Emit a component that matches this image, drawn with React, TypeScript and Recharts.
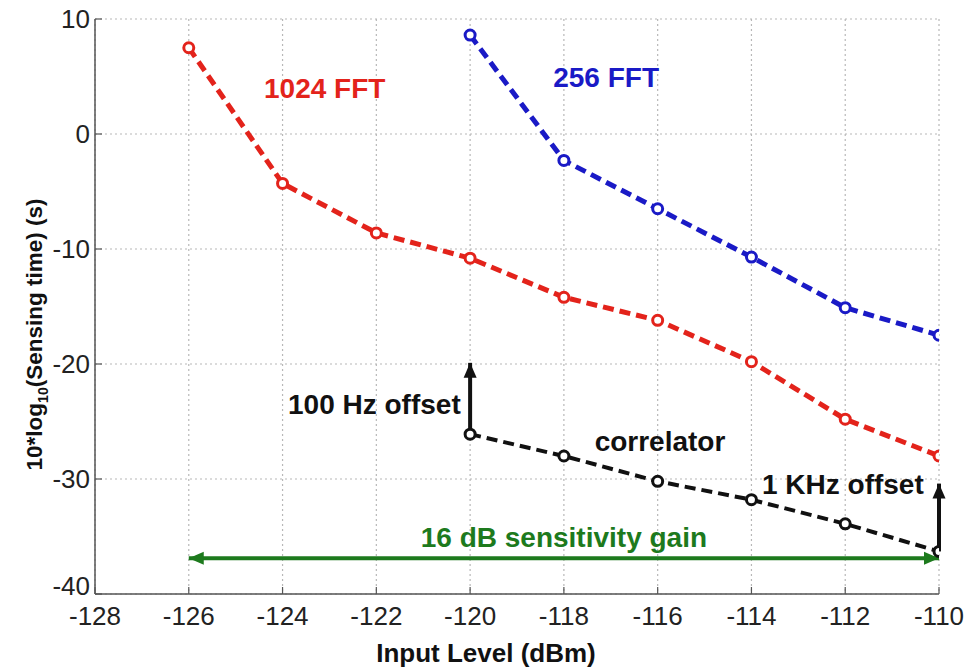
import {
  LineChart,
  Line,
  XAxis,
  YAxis,
  CartesianGrid,
  ReferenceLine,
  ReferenceDot,
} from 'recharts';

const FONT = '"Liberation Sans", Arial, Helvetica, sans-serif';
const RED = '#e3231b';
const BLUE = '#1a1ac6';
const BLACK = '#111111';
const GREEN = '#1d7a1d';
const AXIS = '#555555';

// input levels (dBm)
const levels = [-126, -124, -122, -120, -118, -116, -114, -112, -110];
// 10*log10(sensing time)
const fft1024 = [7.5, -4.3, -8.6, -10.8, -14.2, -16.2, -19.8, -24.8, -28.0];
const fft256 = [null, null, null, 8.6, -2.3, -6.5, -10.7, -15.1, -17.5];
const correlator = [null, null, null, -26.1, -28.0, -30.2, -31.8, -33.9, -36.3];

const xTicks = [-128, -126, -124, -122, -120, -118, -116, -114, -112, -110];
const yTicks = [-40, -30, -20, -10, 0, 10];

const arrows = [
  { x1: -126, y1: -36.9, x2: -110, y2: -36.9, color: GREEN, both: true },
  { x1: -120, y1: -26.1, x2: -120, y2: -19.9, color: BLACK, both: false },
  { x1: -110, y1: -36.3, x2: -110, y2: -30.4, color: BLACK, both: false },
];

const notes = [
  { x: -123.1, y: 4.0, text: '1024 FFT', color: RED, anchor: 'middle' },
  { x: -117.1, y: 5.0, text: '256 FFT', color: BLUE, anchor: 'middle' },
  { x: -120.2, y: -23.5, text: '100 Hz offset', color: BLACK, anchor: 'end' },
  { x: -115.95, y: -26.7, text: 'correlator', color: BLACK, anchor: 'middle' },
  { x: -112.05, y: -30.4, text: '1 KHz offset', color: BLACK, anchor: 'middle' },
  { x: -118.0, y: -35.0, text: '16 dB sensitivity gain', color: GREEN, anchor: 'middle' },
];

const rows = levels.map((level, i) => ({
  level,
  fft1024: fft1024[i],
  fft256: fft256[i],
  correlator: correlator[i],
}));

function makeDot(color: string) {
  return (p: any) => {
    if (p.value == null || p.cy == null) return <g key={p.key} />;
    return (
      <circle
        key={p.key}
        cx={p.cx}
        cy={p.cy}
        r={5}
        fill="#fff"
        stroke={color}
        strokeWidth={3}
      />
    );
  };
}

function BottomTick({ x, y, payload }: any) {
  return (
    <g>
      <line x1={x} y1={y} x2={x} y2={y - 7} stroke={AXIS} strokeWidth={1.2} />
      <text x={x} y={y + 31} textAnchor="middle" fontFamily={FONT} fontSize={26} fill="#222">
        {payload.value}
      </text>
    </g>
  );
}

function LeftTick({ x, y, payload }: any) {
  // lowest label sits a little higher, as in the original, clear of -128
  const dy = payload.value === -40 ? 1 : 9;
  return (
    <g>
      <line x1={x} y1={y} x2={x + 7} y2={y} stroke={AXIS} strokeWidth={1.2} />
      <text x={x - 5} y={y + dy} textAnchor="end" fontFamily={FONT} fontSize={26} fill="#222">
        {payload.value}
      </text>
    </g>
  );
}

function TopTick({ x, y }: any) {
  return <line x1={x} y1={y} x2={x} y2={y + 7} stroke={AXIS} strokeWidth={1.2} />;
}

function RightTick({ x, y }: any) {
  return <line x1={x} y1={y} x2={x - 7} y2={y} stroke={AXIS} strokeWidth={1.2} />;
}

function head(x: number, y: number, fx: number, fy: number, color: string) {
  // arrowhead tip at (x,y), pointing away from (fx,fy)
  const len = 15;
  const half = 6.5;
  const dx = x - fx;
  const dy = y - fy;
  const d = Math.hypot(dx, dy) || 1;
  const ux = dx / d;
  const uy = dy / d;
  const bx = x - ux * len;
  const by = y - uy * len;
  const pts = `${x},${y} ${bx - uy * half},${by + ux * half} ${bx + uy * half},${by - ux * half}`;
  return <polygon points={pts} fill={color} />;
}

function arrowShape(color: string, both: boolean) {
  return (p: any) => {
    const { x1, y1, x2, y2 } = p;
    return (
      <g>
        <line x1={x1} y1={y1} x2={x2} y2={y2} stroke={color} strokeWidth={4} />
        {head(x2, y2, x1, y1, color)}
        {both ? head(x1, y1, x2, y2, color) : null}
      </g>
    );
  };
}

function noteShape(text: string, color: string, anchor: string) {
  return (p: any) => (
    <text
      x={p.cx}
      y={p.cy + 10}
      textAnchor={anchor}
      fontFamily={FONT}
      fontWeight="bold"
      fontSize={28}
      fill={color}
    >
      {text}
    </text>
  );
}

export default function App() {
  return (
    <div style={{ position: 'absolute', left: 0, top: 0, background: '#fff' }}>
      <LineChart
        width={966}
        height={671}
        data={rows}
        margin={{ top: 19, right: 27, bottom: 27, left: 15 }}
      >
        <CartesianGrid stroke="#b8b8b8" strokeDasharray="2 3" strokeWidth={1.2} />
        <XAxis
          type="number"
          dataKey="level"
          domain={[-128, -110]}
          ticks={xTicks}
          allowDataOverflow
          height={50}
          tickSize={0}
          tickMargin={0}
          tick={<BottomTick />}
          axisLine={{ stroke: AXIS, strokeWidth: 1.5 }}
          label={{
            content: ({ viewBox }: any) => (
              <text
                x={viewBox.x + viewBox.width / 2 - 31}
                y={viewBox.y + 68}
                textAnchor="middle"
                fontFamily={FONT}
                fontWeight="bold"
                fontSize={26}
                fill="#111"
              >
                Input Level (dBm)
              </text>
            ),
          }}
        />
        <XAxis
          xAxisId="top"
          orientation="top"
          type="number"
          dataKey="level"
          domain={[-128, -110]}
          ticks={xTicks}
          height={0}
          tickSize={0}
          tickMargin={0}
          tick={<TopTick />}
          axisLine={{ stroke: AXIS, strokeWidth: 1.5 }}
        />
        <YAxis
          type="number"
          domain={[-40, 10]}
          ticks={yTicks}
          width={80}
          tickSize={0}
          tickMargin={0}
          tick={<LeftTick />}
          axisLine={{ stroke: AXIS, strokeWidth: 1.5 }}
          label={{
            content: ({ viewBox }: any) => {
              const cx = viewBox.x + 27;
              const cy = viewBox.y + viewBox.height / 2 + 28;
              return (
                <text
                  transform={`translate(${cx},${cy}) rotate(-90)`}
                  textAnchor="middle"
                  fontFamily={FONT}
                  fontWeight="bold"
                  fontSize={22.5}
                  fill="#111"
                >
                  10*log
                  <tspan fontSize={14} dy={6}>10</tspan>
                  <tspan dy={-6}>(Sensing time) (s)</tspan>
                </text>
              );
            },
          }}
        />
        <YAxis
          yAxisId="right"
          orientation="right"
          type="number"
          domain={[-40, 10]}
          ticks={yTicks}
          width={0}
          tickSize={0}
          tickMargin={0}
          tick={<RightTick />}
          axisLine={{ stroke: AXIS, strokeWidth: 1.5 }}
        />

        <Line
          dataKey="fft1024"
          stroke={RED}
          strokeWidth={5}
          strokeDasharray="11 6"
          dot={makeDot(RED)}
          activeDot={false}
          isAnimationActive={false}
        />
        <Line
          dataKey="fft256"
          stroke={BLUE}
          strokeWidth={5}
          strokeDasharray="11 6"
          dot={makeDot(BLUE)}
          activeDot={false}
          isAnimationActive={false}
        />
        <Line
          dataKey="correlator"
          stroke={BLACK}
          strokeWidth={4}
          strokeDasharray="11 6"
          dot={makeDot(BLACK)}
          activeDot={false}
          isAnimationActive={false}
        />

        {arrows.map((a, i) => (
          <ReferenceLine
            key={`arrow-${i}`}
            segment={[
              { x: a.x1, y: a.y1 },
              { x: a.x2, y: a.y2 },
            ]}
            shape={arrowShape(a.color, a.both)}
          />
        ))}
        {notes.map((n) => (
          <ReferenceDot
            key={n.text}
            x={n.x}
            y={n.y}
            r={0}
            shape={noteShape(n.text, n.color, n.anchor)}
          />
        ))}
      </LineChart>
    </div>
  );
}
